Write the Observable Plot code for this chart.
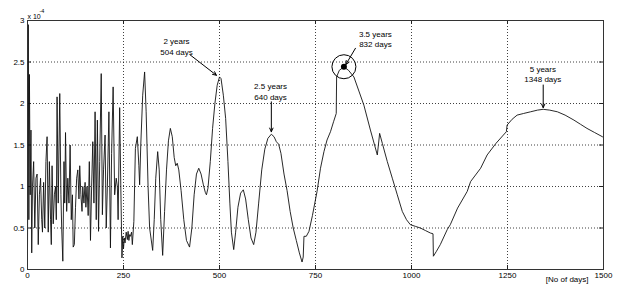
<!DOCTYPE html>
<html>
<head>
<meta charset="utf-8">
<script src="https://cdn.jsdelivr.net/npm/d3@7"></script>
<script src="https://cdn.jsdelivr.net/npm/@observablehq/plot@0.6"></script>
<style>
  html, body { margin: 0; padding: 0; background: #fff; }
</style>
</head>
<body>
<script>
// Time axis in days, values in units of 1e-4
const days = [
  0, 2, 3.5, 5, 7, 9, 11, 13, 16, 19, 22, 25, 28, 31, 34, 37, 39, 42, 45, 48,
  51, 54, 57, 60, 62, 64, 67, 70, 73, 75, 77, 80, 84, 87, 89, 92, 95, 97, 99, 102,
  105, 108, 111, 114, 117, 119, 122, 125, 128, 131, 134, 136, 139, 142, 144, 147, 150, 152, 155, 158,
  161, 164, 167, 170, 173, 176, 179, 182, 185, 188, 192, 195, 198, 202, 205, 208, 212, 216, 219, 223,
  227, 231, 234, 236, 240, 243, 246, 248, 250, 252, 254, 257, 260, 262, 264, 266, 268, 271, 273, 277,
  281, 286, 290, 292, 295, 300, 305, 309, 314, 318, 326, 330, 334, 339, 343, 347, 352, 357, 362, 367,
  372, 377, 382, 386, 390, 394, 400, 407, 414, 422, 428, 434, 440, 446, 452, 458, 463, 466, 470, 476,
  482, 488, 494, 500, 504, 510, 516, 522, 527, 531, 537, 542, 548, 555, 562, 568, 575, 582, 589, 595,
  602, 610, 618, 626, 635, 642, 648, 654, 660, 668, 676, 684, 692, 700, 708, 715, 718, 720, 726, 733,
  742, 754, 763, 772, 780, 789, 797, 804, 805, 812, 824, 836, 850, 863, 876, 893, 911, 917, 924, 937,
  950, 963, 976, 987, 997, 1010, 1023, 1036, 1049, 1056, 1057, 1065, 1075, 1093, 1101, 1120, 1145, 1154, 1180, 1197,
  1220, 1247, 1249, 1262, 1275, 1292, 1310, 1328, 1343, 1360, 1380, 1400, 1423, 1440, 1457, 1477, 1497, 1500
];
const values = [
  0.20, 2.95, 0.60, 2.35, 0.90, 1.68, 0.20, 1.00, 1.30, 0.50, 1.10, 1.15, 0.30, 0.90, 1.10, 0.60, 0.45, 1.05, 0.50, 1.30,
  1.60, 0.45, 1.30, 0.60, 0.30, 1.25, 0.55, 0.90, 1.00, 0.60, 2.08, 0.80, 2.12, 0.90, 0.50, 0.10, 1.30, 0.80, 1.65, 0.70,
  1.10, 0.80, 1.50, 0.60, 0.90, 0.27, 0.30, 0.75, 1.10, 1.20, 0.85, 1.25, 0.90, 0.70, 1.00, 0.80, 1.05, 0.75, 1.00, 0.65,
  1.30, 0.35, 1.00, 1.54, 0.80, 1.90, 0.60, 1.80, 0.46, 1.30, 2.36, 0.66, 1.20, 1.62, 0.50, 1.00, 1.90, 0.26, 1.40, 2.20,
  0.90, 1.10, 1.00, 0.60, 1.95, 1.00, 0.14, 0.40, 0.25, 0.38, 0.32, 0.45, 0.36, 0.46, 0.35, 0.42, 0.40, 0.45, 0.30, 0.58,
  1.46, 1.60, 1.25, 1.02, 1.50, 2.10, 2.38, 1.90, 1.00, 0.50, 0.23, 0.60, 1.10, 1.42, 1.20, 0.60, 0.17, 0.70, 1.20, 1.55,
  1.70, 1.60, 1.35, 1.25, 1.28, 1.20, 0.95, 0.60, 0.35, 0.27, 0.50, 0.90, 1.15, 1.22, 1.15, 1.02, 0.93, 0.90, 0.98, 1.30,
  1.70, 2.00, 2.22, 2.32, 2.30, 2.10, 1.82, 1.30, 0.80, 0.45, 0.24, 0.45, 0.75, 0.92, 0.96, 0.85, 0.60, 0.38, 0.30, 0.45,
  0.80, 1.20, 1.45, 1.58, 1.63, 1.60, 1.54, 1.51, 1.40, 1.15, 0.95, 0.70, 0.50, 0.35, 0.20, 0.09, 0.15, 0.40, 0.40, 0.46,
  0.65, 0.94, 1.22, 1.42, 1.56, 1.66, 1.78, 1.88, 2.32, 2.40, 2.44, 2.40, 2.32, 2.15, 1.98, 1.68, 1.38, 1.64, 1.52, 1.30,
  1.10, 0.90, 0.70, 0.60, 0.54, 0.52, 0.50, 0.47, 0.44, 0.43, 0.16, 0.22, 0.30, 0.48, 0.54, 0.74, 0.94, 1.06, 1.22, 1.38,
  1.52, 1.66, 1.74, 1.81, 1.86, 1.88, 1.90, 1.92, 1.93, 1.92, 1.90, 1.86, 1.80, 1.75, 1.70, 1.65, 1.60, 1.59
];

const xTicks = [0, 250, 500, 750, 1000, 1250, 1500];
const yTicks = [0, 0.5, 1, 1.5, 2, 2.5, 3];
const yTickLabels = ["0", "0.5", "1", "1.5", "2", "2.5", "3"];
const xAxisLabel = "[No of days]";
const scaleLabel = "x 10";
const scaleExponent = "-4";

// Annotations (text position, arrow start and tip, in data units)
const annLabels = ["2 years\n504 days", "2.5 years\n640 days", "3.5 years\n832 days", "5 years\n1348 days"];
const annTextX = [388, 633, 906, 1342];
const annTextY = [2.69, 2.147, 2.78, 2.36];
const annFromX = [424, 635, 854, 1343];
const annFromY = [2.584, 2.02, 2.665, 2.223];
const annToX = [492, 635, 829, 1343];
const annToY = [2.34, 1.66, 2.47, 1.95];
const markDay = [824];
const markValue = [2.443];

const series = days.map((d, i) => ({day: d, value: values[i]}));
const anns = annLabels.map((t, i) => ({
  text: t, tx: annTextX[i], ty: annTextY[i],
  x1: annFromX[i], y1: annFromY[i], x2: annToX[i], y2: annToY[i]
}));
const marks = markDay.map((d, i) => ({day: d, value: markValue[i]}));
const gridX = xTicks.slice(1, -1);
const gridY = yTicks.slice(1, -1);

const FONT = "'Liberation Sans Narrow', 'Liberation Sans', Arial, sans-serif";

const chart = Plot.plot({
  width: 619,
  height: 289,
  marginLeft: 27,
  marginRight: 16,
  marginTop: 20,
  marginBottom: 20,
  style: {background: "#fff", fontFamily: FONT, fontSize: "8px", color: "#000"},
  x: {domain: [0, 1500]},
  y: {domain: [0, 3]},
  marks: [
    Plot.ruleX(gridX, {stroke: "#000", strokeOpacity: 0.75, strokeDasharray: "1,2", strokeWidth: 1}),
    Plot.ruleY(gridY, {stroke: "#000", strokeOpacity: 0.75, strokeDasharray: "1,2", strokeWidth: 1}),
    // inward ticks on all four sides
    Plot.tickX(xTicks, {x: d => d, insetTop: 245, stroke: "#222"}),
    Plot.tickX(xTicks, {x: d => d, insetBottom: 245, stroke: "#222"}),
    Plot.tickY(yTicks, {y: d => d, insetRight: 572, stroke: "#222"}),
    Plot.tickY(yTicks, {y: d => d, insetLeft: 572, stroke: "#222"}),
    Plot.axisX({ticks: xTicks, tickSize: 0, tickPadding: 3, tickFormat: d => String(d), label: null, fontSize: 8}),
    Plot.axisY({ticks: yTicks, tickSize: 0, tickPadding: 3, tickFormat: d => yTickLabels[yTicks.indexOf(d)], label: null, fontSize: 8}),
    Plot.line(series, {x: "day", y: "value", stroke: "#111", strokeWidth: 0.9}),
    Plot.frame({stroke: "#333", strokeWidth: 1}),
    Plot.text(anns, {x: "tx", y: "ty", text: "text", fontSize: 8, lineHeight: 1.3, fill: "#000"}),
    Plot.arrow(anns, {x1: "x1", y1: "y1", x2: "x2", y2: "y2", stroke: "#000", strokeWidth: 1, headLength: 6, headAngle: 50}),
    Plot.dot(marks, {x: "day", y: "value", r: 12, stroke: "#000", strokeWidth: 1, fill: "none"}),
    Plot.dot(marks, {x: "day", y: "value", r: 3, fill: "#000"}),
    Plot.text([xAxisLabel], {text: d => d, frameAnchor: "bottom-right", textAnchor: "end", dx: -15, dy: 12, fontSize: 8}),
    Plot.text([scaleLabel], {text: d => d, frameAnchor: "top-left", textAnchor: "start", dx: 0, dy: -6, fontSize: 7}),
    Plot.text([scaleExponent], {text: d => d, frameAnchor: "top-left", textAnchor: "start", dx: 12, dy: -11, fontSize: 5.5})
  ]
});
document.body.appendChild(chart);
</script>
</body>
</html>
